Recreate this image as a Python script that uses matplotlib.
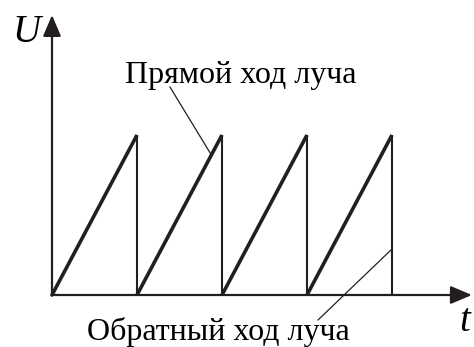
import numpy as np
import matplotlib.pyplot as plt

INK = '#231f20'
SERIF = 'Liberation Serif'
W, H = 474, 347

# sawtooth: linear rise over one period, instant drop back to zero
periods = [0, 1, 2, 3]
u_low = [0.0, 0.0, 0.0, 0.0]
u_high = [1.0, 1.0, 1.0, 1.0]

# axis extents (arrow tips)
t_max = 4.94
u_max = 1.75

# leader lines: (start) -> (end on the curve)
forward_leader = ([1.388, 1.875], [1.30, 0.875])
return_leader = ([3.13, 4.0], [-0.156, 0.2875])

fig = plt.figure(figsize=(W / 100, H / 100), dpi=100)
ax = fig.add_axes([0, 0, 1, 1])
ax.set_xlim(-52 / 85, (W - 52) / 85)
ax.set_ylim(-52 / 160, (H - 52) / 160)
ax.axis('off')

# axes with arrowheads
arrow = dict(arrowstyle='-|>,head_length=1.3,head_width=0.55', lw=1.6,
             color=INK, shrinkA=0, shrinkB=0, mutation_scale=10)
ax.annotate('', xy=(0, u_max), xytext=(0, -0.005), arrowprops=arrow)
ax.annotate('', xy=(t_max, 0), xytext=(-0.01, 0), arrowprops=arrow)

for k, lo, hi in zip(periods, u_low, u_high):
    ax.plot([k, k + 1], [lo, hi], color=INK, lw=2.6, solid_capstyle='butt')
    ax.plot([k + 1, k + 1], [hi, lo], color=INK, lw=1.5, solid_capstyle='butt')

ax.plot(*forward_leader, color=INK, lw=0.9)
ax.plot(*return_leader, color=INK, lw=0.9)


def label(x, y, s, size, **kw):
    # x, y in pixels from the top-left corner, y is the baseline
    fig.text(x / W, 1 - y / H, s, fontsize=size, family=SERIF,
             color='black', va='baseline', ha='left', **kw)


label(125, 83, 'Прямой ход луча', 23)
label(87, 340, 'Обратный ход луча', 23)
label(12, 42, 'U', 28, style='italic')
label(459, 331, 't', 28, style='italic')

fig.savefig('out.png', dpi=100)
